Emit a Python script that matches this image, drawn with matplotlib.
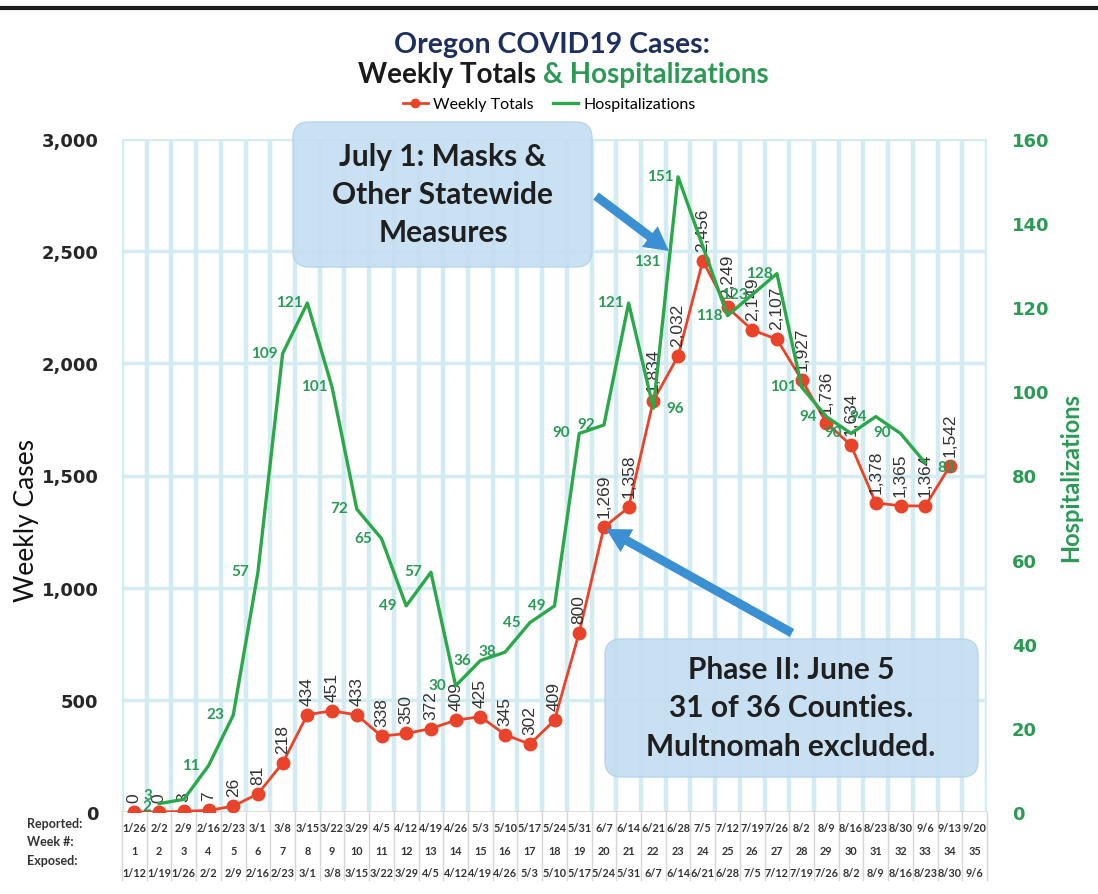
import matplotlib
matplotlib.use("Agg")
import matplotlib.pyplot as plt
from matplotlib.patches import FancyBboxPatch, FancyArrow
from matplotlib.lines import Line2D
import matplotlib.transforms as mtrans
import numpy as np

# ---------------- data ----------------
reported = ['1/26','2/2','2/9','2/16','2/23','3/1','3/8','3/15','3/22','3/29','4/5','4/12',
            '4/19','4/26','5/3','5/10','5/17','5/24','5/31','6/7','6/14','6/21','6/28','7/5',
            '7/12','7/19','7/26','8/2','8/9','8/16','8/23','8/30','9/6','9/13','9/20']
week_nums = [str(i) for i in range(1, 36)]
exposed = ['1/12','1/19','1/26','2/2','2/9','2/16','2/23','3/1','3/8','3/15','3/22','3/29',
           '4/5','4/12','4/19','4/26','5/3','5/10','5/17','5/24','5/31','6/7','6/14','6/21',
           '6/28','7/5','7/12','7/19','7/26','8/2','8/9','8/16','8/23','8/30','9/6']
weekly_totals = [0, 0, 3, 7, 26, 81, 218, 434, 451, 433, 338, 350, 372, 409, 425, 345, 302,
                 409, 800, 1269, 1358, 1834, 2032, 2456, 2249, 2149, 2107, 1927, 1736, 1634,
                 1378, 1365, 1364, 1542, None]
hospitalizations = [None, 2, 3, 11, 23, 57, 109, 121, 101, 72, 65, 49, 57, 30, 36, 38, 45,
                    49, 90, 92, 121, 96, 151, None, 118, 123, 128, 101, 94, 90, 94, 90, 83,
                    None, None]
# stray label shown in the chart (week index, value)
extra_hosp_label = (21.55, 131)

RED = '#e9432a'
GREEN = '#2aa84a'
GREEN_TXT = '#2a9a55'
DARK = '#262626'
GRID = '#d2ecf1'

W, H = 1098, 895
fig = plt.figure(figsize=(W / 100, H / 100), dpi=100)
fig.patch.set_facecolor('white')

L, R, B, T = 122, 987, 813, 140
ax = fig.add_axes([L / W, (H - B) / H, (R - L) / W, (B - T) / H])
n = len(reported)
x = np.arange(n)
ax.set_xlim(-0.5, n - 0.5)
ax.set_ylim(0, 3000)
for s in ax.spines.values():
    s.set_visible(False)
ax.set_xticks([])
ax.set_yticks(range(0, 3001, 500))
ax.set_yticklabels([f'{v:,}' for v in range(0, 3001, 500)])
ax.tick_params(axis='y', length=0, pad=17, labelsize=13, labelcolor=DARK)
for lab in ax.get_yticklabels():
    lab.set_fontweight('bold')

# gridlines
for b in np.arange(-0.5, n, 1.0):
    ax.axvline(b, color=GRID, lw=3.2, zorder=0)
for v in range(500, 3001, 500):
    ax.axhline(v, color=GRID, lw=2.5, zorder=0)
ax.axhline(0, color='#d9d9d9', lw=1.2, zorder=0)

# weekly totals
wx = [i for i, v in enumerate(weekly_totals) if v is not None]
wy = [weekly_totals[i] for i in wx]
ax.plot(wx, wy, color=RED, lw=2, marker='o', ms=9, zorder=3, label='Weekly Totals')
for xi, yi in zip(wx, wy):
    ax.annotate(f'{yi:,}', (xi, yi), xytext=(0, 10), textcoords='offset pixels',
                rotation=90, ha='center', va='bottom', fontsize=12.5,
                family='Liberation Sans', color='#333333', zorder=5)

# hospitalizations on twin axis
ax2 = ax.twinx()
ax2.set_ylim(0, 160)
for s in ax2.spines.values():
    s.set_visible(False)
ax2.set_yticks(range(0, 161, 20))
ax2.tick_params(axis='y', length=0, pad=18, labelsize=13, labelcolor=GREEN_TXT)
for lab in ax2.get_yticklabels():
    lab.set_fontweight('bold')
hx = [i for i, v in enumerate(hospitalizations) if v is not None]
hy = [hospitalizations[i] for i in hx]
ax2.plot(hx, hy, color=GREEN, lw=2.4, zorder=4, label='Hospitalizations')
special = {1: (-12, -2), 2: (-36, 4), 21: (22, 0), 32: (21, -4)}
for xi, yi in zip(hx, hy):
    dx, dy = special.get(xi, (-18, 1))
    ax2.annotate(str(yi), (xi, yi), xytext=(dx, dy), textcoords='offset pixels',
                 ha='center', va='center', fontsize=11, family='Lato',
                 fontweight='bold', color=GREEN_TXT, zorder=6)
ax2.annotate(str(extra_hosp_label[1]), extra_hosp_label, xytext=(-20, 0),
             textcoords='offset pixels', ha='center', va='center', fontsize=11,
             family='Lato', fontweight='bold', color=GREEN_TXT)

# bottom table
tr = mtrans.blended_transform_factory(ax.transData, ax.transAxes)
ph = B - T
for b in np.arange(-0.5, n, 1.0):
    ax.plot([b, b], [0, -68 / ph], color='#d6d6d6', lw=1, transform=tr, clip_on=False)
rows = [(reported, -16 / ph), (week_nums, -38.5 / ph), (exposed, -61 / ph)]
for labels, yy in rows:
    for xi, lab in enumerate(labels):
        ax.text(xi, yy, lab, transform=tr, ha='center', va='center', fontsize=7.8,
                family='Lato', fontweight='bold', color='#333333')

# overlay in pixel coordinates
ov = fig.add_axes([0, 0, 1, 1], zorder=10)
ov.set_xlim(0, W)
ov.set_ylim(H, 0)
ov.axis('off')
ov.patch.set_alpha(0)

ov.plot([0, W], [9, 9], color='#1e1e1e', lw=3)

ov.text(27, 520, 'Weekly Cases', rotation=90, ha='center', va='center',
        family='Lato', fontsize=19, color='#111111')
ov.text(1071, 477, 'Hospitalizations', rotation=90, ha='center', va='center',
        family='Lato', fontsize=17, fontweight='bold', color=GREEN_TXT)

for txt, yy in [('Reported:', 824), ('Week #:', 842), ('Exposed:', 861)]:
    ov.text(27, yy, txt, ha='left', va='center', fontsize=9, family='Lato',
            fontweight='bold', color='#333333')

ov.text(552, 45, 'Oregon COVID19 Cases:', ha='center', va='center', fontsize=20.5,
        family='Lato', fontweight='bold', color='#1c2f5e')
t1 = ov.text(0, 75, 'Weekly Totals ', ha='left', va='center', fontsize=20,
             family='Lato', fontweight='bold', color='#1a1a1a')
t2 = ov.text(0, 75, '& Hospitalizations', ha='left', va='center', fontsize=20,
             family='Lato', fontweight='bold', color=GREEN_TXT)
fig.canvas.draw()
rnd = fig.canvas.get_renderer()
w1 = t1.get_window_extent(rnd).width
w2 = t2.get_window_extent(rnd).width
x0 = 563 - (w1 + w2) / 2
t1.set_x(x0)
t2.set_x(x0 + w1)

handles = [Line2D([], [], color=RED, lw=2, marker='o', ms=6),
           Line2D([], [], color=GREEN, lw=2.4)]
fig.legend(handles, ['Weekly Totals', 'Hospitalizations'], loc='center',
           bbox_to_anchor=(549 / W, 1 - 105 / H), ncol=2, frameon=False,
           prop={'family': 'Lato', 'size': 11.5}, handlelength=1.6, handletextpad=0.3,
           columnspacing=1.2)

# annotation boxes
BOX_FC = '#c4def1'
box1 = FancyBboxPatch((293, 123), 299, 145, boxstyle='round,pad=0,rounding_size=16',
                      fc=BOX_FC, ec='#b3d3ec', lw=1, alpha=0.9)
ov.add_patch(box1)
for line, yy in [('July 1: Masks &', 157), ('Other Statewide', 195), ('Measures', 233)]:
    ov.text(443, yy, line, ha='center', va='center', fontsize=21.5, family='Lato',
            fontweight='bold', color='#1f1f1f')
box2 = FancyBboxPatch((605, 640), 373, 138, boxstyle='round,pad=0,rounding_size=16',
                      fc=BOX_FC, ec='#b3d3ec', lw=1, alpha=0.92)
ov.add_patch(box2)
for line, yy in [('Phase II: June 5', 670), ('31 of 36 Counties.', 708),
                 ('Multnomah excluded.', 747)]:
    ov.text(791, yy, line, ha='center', va='center', fontsize=21.5, family='Lato',
            fontweight='bold', color='#1f1f1f')

ARROW = '#3b8fd3'
def arrow(x1, y1, x2, y2):
    ov.add_patch(FancyArrow(x1, y1, x2 - x1, y2 - y1, width=9, head_width=26,
                            head_length=24, length_includes_head=True, fc=ARROW,
                            ec=ARROW, lw=0))
arrow(596, 197, 669, 252)
arrow(792, 634, 606, 530)

fig.savefig('out.png', dpi=100, facecolor='white')
